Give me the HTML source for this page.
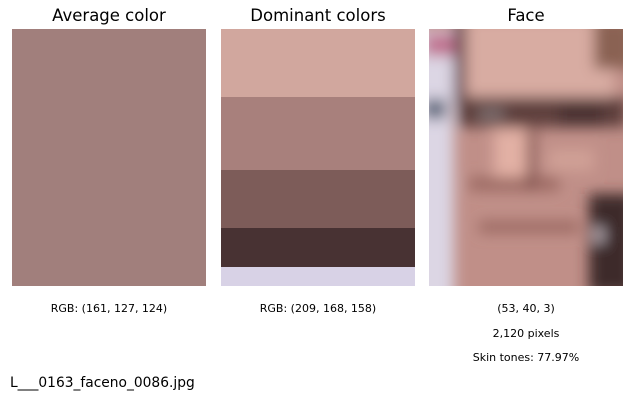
<!DOCTYPE html>
<html><head><meta charset="utf-8"><style>
body{margin:0;background:#fff;width:632px;height:401px;overflow:hidden;font-family:"DejaVu Sans","Liberation Sans",sans-serif;}
.t{position:absolute;font-size:16.5px;color:#000;text-align:center;width:200px;line-height:20px}
.s{position:absolute;font-size:11px;color:#000;text-align:center;width:200px;line-height:13px}
</style></head><body>
<div class="t" style="left:9px;top:6px">Average color</div>
<div class="t" style="left:218px;top:6px">Dominant colors</div>
<div class="t" style="left:426px;top:6px">Face</div>
<div style="position:absolute;left:12px;top:29px;width:194px;height:257px;background:rgb(161,127,124)"></div>
<svg id="dom" style="position:absolute;left:221px;top:29px" width="194" height="257"></svg>
<svg style="position:absolute;left:429px;top:29px" width="194" height="257" viewBox="0 0 194 257">
<defs><filter id="b" x="-20%" y="-20%" width="140%" height="140%"><feGaussianBlur stdDeviation="7"/></filter><clipPath id="c"><rect width="194" height="257"/></clipPath></defs>
<g clip-path="url(#c)"><rect width="194" height="257" fill="#c08f88"/>
<g filter="url(#b)">
<rect x="35" y="-10" width="150" height="80" fill="#d8aca2"/>
<rect x="-20" y="0" width="45" height="280" fill="#dcd6e4"/>
<rect x="-5" y="5" width="30" height="22" fill="#c0708e"/>
<rect x="-5" y="70" width="22" height="20" fill="#586478"/>
<rect x="25" y="-10" width="12" height="85" fill="#6a4850"/>
<rect x="165" y="-10" width="40" height="50" fill="#8a6252"/>
<rect x="28" y="68" width="170" height="30" fill="#5e403c"/>
<rect x="50" y="78" width="25" height="14" fill="#7c6c6c"/>
<rect x="130" y="76" width="45" height="20" fill="#4a3232"/>
<rect x="65" y="100" width="40" height="50" fill="#e2b0a4"/>
<rect x="120" y="120" width="45" height="22" fill="#d0a096"/>
<rect x="40" y="148" width="90" height="14" fill="#9c6a64"/>
<rect x="50" y="192" width="100" height="12" fill="#9c6a64"/>
<rect x="160" y="165" width="45" height="100" fill="#3e2c2c"/>
<rect x="165" y="198" width="10" height="16" fill="#b8acb4"/>
<rect x="98" y="100" width="8" height="60" fill="#7c4e48"/>
</g></g></svg>
<div class="s" style="left:9px;top:302px">RGB: (161, 127, 124)</div>
<div class="s" style="left:218px;top:302px">RGB: (209, 168, 158)</div>
<div class="s" style="left:426px;top:302px">(53, 40, 3)</div>
<div class="s" style="left:426px;top:327px">2,120 pixels</div>
<div class="s" style="left:426px;top:351px">Skin tones: 77.97%</div>
<div style="position:absolute;left:10px;top:375px;font-size:13.8px;line-height:17px">L___0163_faceno_0086.jpg</div>
<script>
const bandColors=["#d1a79e","#a8807c","#7d5c59","#483233","#d8d2e6"];
const bandShares=[68,73,58,39,19];
const svg=document.getElementById('dom');
const total=bandShares.reduce((a,b)=>a+b,0);
let y=0;
bandShares.forEach((v,i)=>{
 const h=v/total*257;
 const r=document.createElementNS('http://www.w3.org/2000/svg','rect');
 r.setAttribute('x',0);r.setAttribute('y',y);r.setAttribute('width',194);r.setAttribute('height',h+0.5);
 r.setAttribute('fill',bandColors[i]);
 
 
 svg.appendChild(r);y+=h;
});
</script>
</body></html>
